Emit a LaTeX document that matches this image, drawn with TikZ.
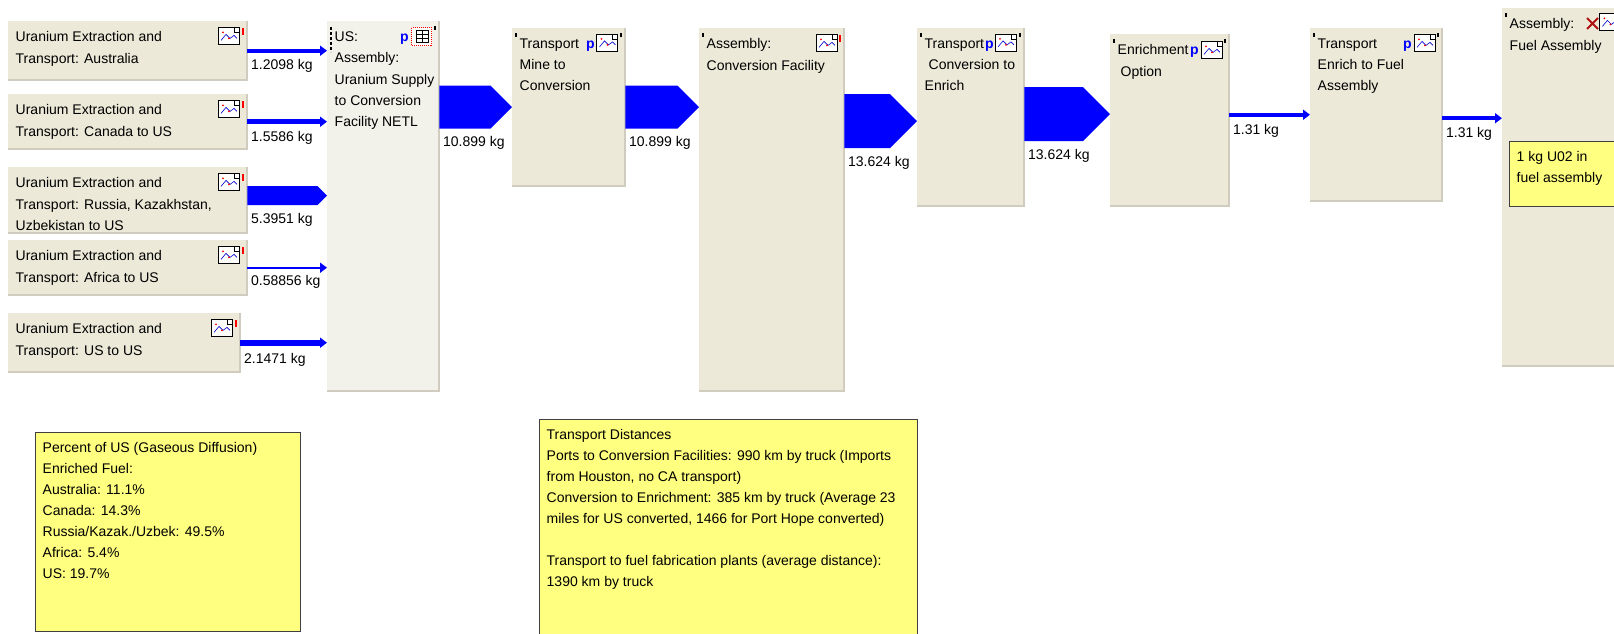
\documentclass[tikz,border=0pt]{standalone}
\usepackage{fontspec}
\setmainfont{Liberation Sans}
\usepackage{tikz}
\usetikzlibrary{arrows.meta,calc}
\definecolor{boxbeige}{HTML}{ECE9D8}
\definecolor{boxpale}{HTML}{F2F1EA}
\definecolor{boxedge}{HTML}{D0CCC0}
\definecolor{notefill}{HTML}{FFFF80}
\definecolor{noteedge}{HTML}{404040}
\definecolor{flowblue}{HTML}{0000FF}
\definecolor{crossred}{HTML}{B01010}
\tikzset{
  procbox/.style={rectangle, fill=boxbeige, inner sep=0pt, anchor=north west},
  notebox/.style={rectangle, fill=notefill, draw=noteedge, line width=1.2pt, inner sep=0pt, anchor=north west},
  boxtext/.style={anchor=north west, inner sep=0pt, xshift=7.5pt, yshift=-10.5pt, align=left, font={\fontsize{14}{21.3}\selectfont}},
  notetext/.style={boxtext, font={\fontsize{14}{21}\selectfont}},
  flowlbl/.style={anchor=north west, inner sep=0pt, font={\fontsize{14}{17}\selectfont}},
  thinflow/.style={draw=flowblue, -{Triangle[length=7pt,width=10pt]}},
  pmark/.style={anchor=base east, inner sep=0pt, text=flowblue, font={\fontsize{14}{17}\selectfont\bfseries}},
  chart/.style={rectangle, draw=black, fill=white, line width=0.8pt, minimum width=21pt, minimum height=17pt, inner sep=0pt, anchor=north east,
    path picture={
      \draw[blue!80!black, line width=0.6pt] ([shift={(3,13)}]path picture bounding box.north west) -- ++(5,-6) -- ++(4,4) -- ++(4,-3) -- ++(3,3);
      \fill[red] ([shift={(5,5)}]path picture bounding box.north west) circle (1);
      \fill[red] ([shift={(11,11)}]path picture bounding box.north west) circle (1);
      \draw[black, line width=0.6pt] ([shift={(-5,0)}]path picture bounding box.north east) -- ++(0,5) -- ++(5,0);
    }},
  chip/.style={rectangle, draw=red, densely dotted, fill=white, line width=1pt, minimum width=20pt, minimum height=18pt, inner sep=0pt, anchor=north east,
    path picture={
      \draw[black, solid, line width=0.8pt] ([shift={(4,3)}]path picture bounding box.north west) rectangle ([shift={(-4,-3)}]path picture bounding box.south east);
      \draw[black, solid, line width=0.6pt] ([shift={(4,7)}]path picture bounding box.north west) -- ++(12,0) ([shift={(4,11)}]path picture bounding box.north west) -- ++(12,0) ([shift={(10,3)}]path picture bounding box.north west) -- ++(0,12);
    }}
}
\newcommand{\blockflow}[5]{%
  \fill[flowblue] let \p1=(#1), \p2=(#2) in (\x1,\y1+#3pt) -- (\x2-#3pt,\y1+#3pt) -- (\x2,\y1) -- (\x2-#3pt,\y1-#3pt) -- (\x1,\y1-#3pt) -- cycle;
  \node[flowlbl] (#4) at ($(#1)+(3.5,#3+7.5)$) {#5};}
\newcommand{\thinflow}[5]{%
  \draw[thinflow, line width=#3pt] (#1) -- (#1 -| #2);
  \node[flowlbl] (#4) at ($(#1)+(3.5,7+#3/2)$) {#5};}
\begin{document}
\begin{tikzpicture}[x=1pt,y=-1pt]
\useasboundingbox (0,0) rectangle (1614,633);
\clip (0,0) rectangle (1614,633);
\fill[white] (0,0) rectangle (1614,633);
\node[procbox, minimum width=239pt, minimum height=59pt] (aus) at (8,21) {};
\node[procbox, minimum width=239pt, minimum height=55pt] (can) at (8,94) {};
\node[procbox, minimum width=239pt, minimum height=66pt] (rus) at (8,167) {};
\node[procbox, minimum width=239pt, minimum height=55pt] (afr) at (8,240) {};
\node[procbox, minimum width=232pt, minimum height=59pt] (usa) at (8,313) {};
\node[procbox, fill=boxpale, minimum width=112pt, minimum height=370pt] (supply) at (327,21) {};
\node[procbox, minimum width=113pt, minimum height=158pt] (mine) at (512,28) {};
\node[procbox, minimum width=145pt, minimum height=363pt] (conv) at (699,28) {};
\node[procbox, minimum width=107pt, minimum height=178pt] (toenr) at (917,28) {};
\node[procbox, minimum width=119pt, minimum height=172pt] (enr) at (1110,34) {};
\node[procbox, minimum width=132pt, minimum height=173pt] (tofuel) at (1310,28) {};
\node[procbox, minimum width=130pt, minimum height=358pt] (fuel) at (1502,8) {};
\foreach \bx in {aus,can,rus,afr,usa,supply,mine,conv,toenr,enr,tofuel,fuel}
  \draw[boxedge, line width=2pt] (\bx.north east) -- (\bx.south east) -- (\bx.south west);
\node[boxtext] (aust) at (aus.north west) {Uranium Extraction and\\Transport: Australia};
\node[boxtext] (cant) at (can.north west) {Uranium Extraction and\\Transport: Canada to US};
\node[boxtext] (rust) at (rus.north west) {Uranium Extraction and\\Transport: Russia, Kazakhstan,\\Uzbekistan to US};
\node[boxtext] (afrt) at (afr.north west) {Uranium Extraction and\\Transport: Africa to US};
\node[boxtext] (usat) at (usa.north west) {Uranium Extraction and\\Transport: US to US};
\node[boxtext] (supplyt) at (supply.north west) {US:\\Assembly:\\Uranium Supply\\to Conversion\\Facility NETL};
\node[boxtext] (minet) at (mine.north west) {Transport\\Mine to\\Conversion};
\node[boxtext] (convt) at (conv.north west) {Assembly:\\Conversion Facility};
\node[boxtext] (toenrt) at (toenr.north west) {Transport\\\hspace*{4pt}Conversion to\\Enrich};
\node[boxtext] (enrt) at (enr.north west) {Enrichment\\\hspace*{3pt}Option};
\node[boxtext] (tofuelt) at (tofuel.north west) {Transport\\Enrich to Fuel\\Assembly};
\node[boxtext] (fuelt) at (fuel.north west) {Assembly:\\Fuel Assembly};
\node[chart] (ic1) at ([shift={(-8,6)}]aus.north east) {};
\node[chart] (ic2) at ([shift={(-8,6)}]can.north east) {};
\node[chart] (ic3) at ([shift={(-8,6)}]rus.north east) {};
\node[chart] (ic4) at ([shift={(-8,6)}]afr.north east) {};
\node[chart] (ic5) at ([shift={(-8,6)}]usa.north east) {};
\node[chip] (ic6) at ([shift={(-7,6)}]supply.north east) {};
\node[chart] (ic7) at ([shift={(-7.5,5.5)}]mine.north east) {};
\node[chart] (ic8) at ([shift={(-7,6)}]conv.north east) {};
\node[chart] (ic9) at ([shift={(-8,5.5)}]toenr.north east) {};
\node[chart] (ic10) at ([shift={(-7,7)}]enr.north east) {};
\node[chart] (ic11) at ([shift={(-7,6)}]tofuel.north east) {};
\node[chart, anchor=north west] (ic12) at ([shift={(97,5)}]fuel.north west) {};
\foreach \bx in {supply,mine,toenr,enr,tofuel}
  \node[pmark] (p\bx) at ([shift={(-30.5,20.5)}]\bx.north east) {p};
\foreach \bx in {aus,can,rus,afr,usa,conv}
  \fill[red] ([shift={(-5,7)}]\bx.north east) rectangle ++(2,7);
\foreach \bx in {mine,conv,toenr,enr,tofuel,fuel}
  \fill[black] ([shift={(3,5)}]\bx.north west) rectangle ++(2,4);
\foreach \bx in {supply,mine,toenr,enr,tofuel}
  \fill[black] ([shift={(-5,5)}]\bx.north east) rectangle ++(2,4);
\draw[black, line width=2pt, dash pattern=on 3pt off 2pt] ([shift={(4,6)}]supply.north west) -- ++(0,25);
\draw[crossred, line width=2pt] ([shift={(85,10)}]fuel.north west) -- ++(11,11) ([shift={(96,10)}]fuel.north west) -- ++(-11,11);
\coordinate (rusout) at ($(rus.east)+(0,-4.5)$);
\coordinate (supout) at (supply.east |- mine.west);
\coordinate (convout) at ($(conv.east |- toenr.west)+(0,4)$);
\coordinate (toenrout) at ($(toenr.east)+(0,-3)$);
\coordinate (enrout) at (enr.east |- tofuel.west);
\coordinate (tofuelout) at ($(tofuel.east)+(0,3.5)$);
\thinflow{aus.east}{supply.west}{3.6}{lblaus}{1.2098 kg}
\thinflow{can.east}{supply.west}{4.6}{lblcan}{1.5586 kg}
\blockflow{rusout}{supply.west}{9.5}{lblrus}{5.3951 kg}
\thinflow{afr.east}{supply.west}{1.8}{lblafr}{0.58856 kg}
\thinflow{usa.east}{supply.west}{6.4}{lblusa}{2.1471 kg}
\blockflow{supout}{mine.west}{21.5}{lblsup}{10.899 kg}
\blockflow{mine.east}{conv.west}{21.5}{lblmine}{10.899 kg}
\blockflow{convout}{toenr.west}{27}{lblconv}{13.624 kg}
\blockflow{toenrout}{enr.west}{27}{lbltoenr}{13.624 kg}
\thinflow{enrout}{tofuel.west}{3.9}{lblenr}{1.31 kg}
\thinflow{tofuelout}{fuel.west}{3.9}{lbltofuel}{1.31 kg}
\node[notebox, minimum width=130pt, minimum height=65pt] (fnote) at (1509,141) {};
\node[notetext] (fnotet) at (fnote.north west) {1 kg U02 in\\fuel assembly};
\node[notebox, minimum width=265pt, minimum height=199pt] (pct) at (35,432) {};
\node[notetext] (pctt) at (pct.north west) {Percent of US (Gaseous Diffusion)\\Enriched Fuel:\\Australia: 11.1\%\\Canada: 14.3\%\\Russia/Kazak./Uzbek: 49.5\%\\Africa: 5.4\%\\US: 19.7\%};
\node[notebox, minimum width=378pt, minimum height=230pt] (dist) at (539,419) {};
\node[notetext] (distt) at (dist.north west) {Transport Distances\\Ports to Conversion Facilities: 990 km by truck (Imports\\from Houston, no CA transport)\\Conversion to Enrichment: 385 km by truck (Average 23\\miles for US converted, 1466 for Port Hope converted)\\[21pt]Transport to fuel fabrication plants (average distance):\\1390 km by truck};
\end{tikzpicture}
\end{document}
